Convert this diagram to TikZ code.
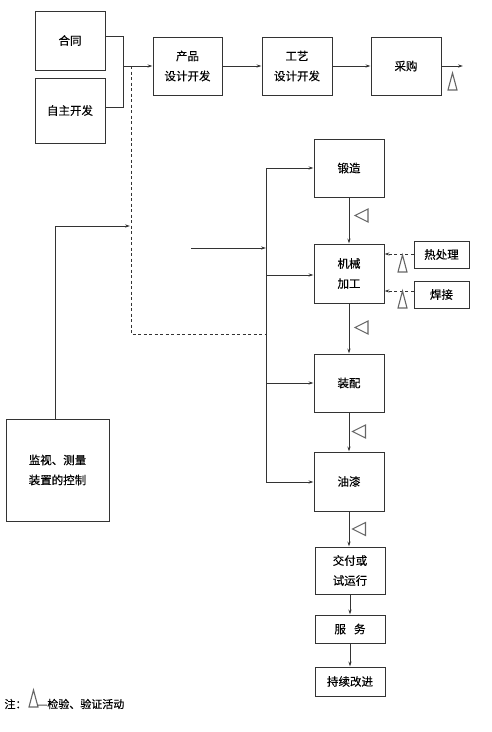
\documentclass[tikz,border=0pt]{standalone}
\usepackage{fontspec}
\setmainfont{Noto Sans CJK SC}[FakeBold=0.3]
\usetikzlibrary{arrows.meta}
\begin{document}
\begin{tikzpicture}[x=1pt,y=-1pt,
  line width=1pt, draw=black!80,
  box/.style={draw=black!80, line width=1pt, inner sep=0pt, align=center,
    font=\fontsize{11.5}{20}\selectfont},
  arr/.style={-{Stealth[length=5pt,width=3.2pt]}},
  ltri/.pic={\draw[black!60, line width=1.1pt] (0,0) -- (13,-6.5) -- (13,6.5) -- cycle;},
  utri/.pic={\draw[black!60, line width=1.1pt] (0,0) -- (-4.5,17) -- (4.5,17) -- cycle;},
]
\useasboundingbox (0,0) rectangle (492,732);

% boxes
\node[box, minimum width=70pt, minimum height=59pt] (hetong) at (70,40.5) {合同};
\node[box, minimum width=70pt, minimum height=65pt] (zizhu) at (70,110.5) {自主开发};
\node[box, minimum width=69pt, minimum height=58pt] (chanpin) at (187.5,66) {产品\\设计开发};
\node[box, minimum width=70pt, minimum height=58pt] (gongyi) at (297,66) {工艺\\设计开发};
\node[box, minimum width=70pt, minimum height=58pt] (caigou) at (406,66) {采购};
\node[box, minimum width=70pt, minimum height=58pt] (duanzao) at (349,168) {锻造};
\node[box, minimum width=70pt, minimum height=59pt] (jixie) at (349,273.5) {机械\\加工};
\node[box, minimum width=70pt, minimum height=58pt] (zhuangpei) at (349,383) {装配};
\node[box, minimum width=70pt, minimum height=59pt] (youqi) at (349,481.5) {油漆};
\node[box, minimum width=70pt, minimum height=47pt] (jiaofu) at (350,570.5) {交付或\\试运行};
\node[box, minimum width=70pt, minimum height=28pt] (fuwu) at (350,629) {服\hspace{0.7em}务};
\node[box, minimum width=70pt, minimum height=29pt] (chixu) at (350,681.5) {持续改进};
\node[box, minimum width=55pt, minimum height=27pt] (rechuli) at (441.5,254.5) {热处理};
\node[box, minimum width=55pt, minimum height=27pt] (hanjie) at (441.5,294.5) {焊接};
\node[box, minimum width=103pt, minimum height=102pt] (jianshi) at (57.5,470) {监视、测量\\装置的控制};

% coordinates
\coordinate (bt) at (123,36);
\coordinate (bb) at (123,107);
\coordinate (bm) at (123,66);
\coordinate (dtop) at (131,66);
\coordinate (dcorner) at (131,334);
\coordinate (vtop) at (266,168);
\coordinate (vbot) at (266,482);
\coordinate (vdash) at (266,334);
\coordinate (vin) at (266,248);
\coordinate (inl) at (191,248);
\coordinate (jscorner) at (55,226);
\coordinate (jsend) at (130,226);
\coordinate (caigouout) at (463,66);

% top row
\draw (hetong.east |- bt) -- (bt) -- (bb) -- (zizhu.east |- bb);
\draw[arr] (bm) -- (chanpin.west |- bm);
\draw[arr] (chanpin.east |- 0,66) -- (gongyi.west |- 0,66);
\draw[arr] (gongyi.east |- 0,66) -- (caigou.west |- 0,66);
\draw[arr] (caigou.east |- 0,66) -- (caigouout);
\pic at (452.5,73) {utri};

% dashed
\draw[dashed, dash pattern=on 3pt off 2.5pt] (dtop) -- (dcorner) -- (vdash);

% left control box
\draw[arr] (jianshi.north -| jscorner) -- (jscorner) -- (jsend);

% main vertical distribution
\draw (vtop) -- (vbot);
\draw[arr] (inl) -- (vin);
\draw[arr] (vtop) -- (duanzao.west |- vtop);
\draw[arr] (266,275) -- (jixie.west |- 0,275);
\draw[arr] (266,383) -- (zhuangpei.west);
\draw[arr] (vbot) -- (youqi.west |- vbot);

% vertical chain
\draw[arr] (duanzao.south) -- (jixie.north);
\draw[arr] (jixie.south) -- (zhuangpei.north);
\draw[arr] (zhuangpei.south) -- (youqi.north);
\draw[arr] (youqi.south) -- (youqi.south |- jiaofu.north);
\draw[arr] (jiaofu.south) -- (fuwu.north);
\draw[arr] (fuwu.south) -- (chixu.north);
\pic at (355,215.5) {ltri};
\pic at (355,327.5) {ltri};
\pic at (352.5,431.5) {ltri};
\pic at (352.5,529) {ltri};

% side inputs
\draw[arr, dashed, dash pattern=on 3pt off 2.5pt] (rechuli.west |- 0,254) -- (jixie.east |- 0,254);
\draw[arr, dashed, dash pattern=on 3pt off 2.5pt] (hanjie.west |- 0,291) -- (jixie.east |- 0,291);
\pic at (402.5,255) {utri};
\pic at (402.5,291) {utri};

% legend
\node[anchor=west, inner sep=0pt, font=\fontsize{11}{13}\selectfont] (zhu) at (4,704) {注：};
\pic at (33.5,690) {utri};
\node[anchor=west, inner sep=0pt, font=\fontsize{11}{13}\selectfont] (legend) at (37,704) {—检验、验证活动};
\end{tikzpicture}
\end{document}
